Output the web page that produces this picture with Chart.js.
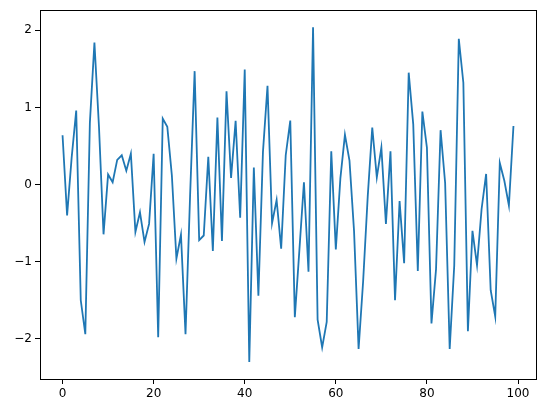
<!DOCTYPE html>
<html>
<head>
<meta charset="utf-8">
<script src="https://cdn.jsdelivr.net/npm/chart.js@4/dist/chart.umd.min.js"></script>
<style>
  html, body { margin: 0; padding: 0; background: #fff; }
  #wrap { width: 546px; height: 413px; }
</style>
</head>
<body>
<div id="wrap"><canvas id="lineChart" width="546" height="413"></canvas></div>
<script>
// Step index (x) and signal value (y)
const steps = [
    0, 1, 2, 3, 4, 5, 6, 7, 8, 9, 10, 11, 12, 13, 14, 15, 16, 17, 18, 19,
    20, 21, 22, 23, 24, 25, 26, 27, 28, 29, 30, 31, 32, 33, 34, 35, 36, 37, 38, 39,
    40, 41, 42, 43, 44, 45, 46, 47, 48, 49, 50, 51, 52, 53, 54, 55, 56, 57, 58, 59,
    60, 61, 62, 63, 64, 65, 66, 67, 68, 69, 70, 71, 72, 73, 74, 75, 76, 77, 78, 79,
    80, 81, 82, 83, 84, 85, 86, 87, 88, 89, 90, 91, 92, 93, 94, 95, 96, 97, 98, 99
];
const values = [
    0.64, -0.40, 0.35, 0.96, -1.50, -1.94, 0.80, 1.84, 0.75, -0.645,
    0.13, 0.03, 0.32, 0.38, 0.18, 0.40, -0.615, -0.36, -0.745, -0.51,
    0.40, -1.98, 0.855, 0.75, 0.12, -0.96, -0.65, -1.94, -0.15, 1.47,
    -0.72, -0.66, 0.36, -0.86, 0.87, -0.73, 1.21, 0.086, 0.826, -0.43,
    1.49, -2.30, 0.22, -1.44, 0.42, 1.28, -0.50, -0.20, -0.83, 0.38,
    0.83, -1.72, -0.85, 0.03, -1.13, 2.04, -1.75, -2.11, -1.78, 0.43,
    -0.84, 0.08, 0.645, 0.31, -0.60, -2.13, -1.25, -0.16, 0.74, 0.094,
    0.48, -0.51, 0.43, -1.50, -0.215, -1.02, 1.45, 0.78, -1.12, 0.946,
    0.48, -1.80, -1.10, 0.705, 0.02, -2.13, -1.05, 1.89, 1.32, -1.90,
    -0.60, -1.045, -0.32, 0.138, -1.37, -1.71, 0.28, 0.05, -0.27, 0.76
];
const xTicks = [0, 20, 40, 60, 80, 100];
const yTicks = [-2, -1, 0, 1, 2];

// matplotlib-style frame on all four sides
const frameBox = {
    id: 'frameBox',
    afterDraw(chart) {
        const { ctx, chartArea: a } = chart;
        ctx.save();
        ctx.strokeStyle = '#000';
        ctx.lineWidth = 1;
        ctx.strokeRect(Math.round(a.left) + 0.5, Math.round(a.top) + 0.5,
            Math.round(a.right - a.left), Math.round(a.bottom - a.top));
        ctx.restore();
    }
};

const tickFont = { family: 'DejaVu Sans', size: 12 };
const fmt = v => String(v).replace('-', '\u2212');

new Chart(document.getElementById('lineChart').getContext('2d'), {
    type: 'line',
    data: {
        labels: steps,
        datasets: [{
            data: values,
            borderColor: '#1f77b4',
            borderWidth: 1.8,
            pointRadius: 0,
            tension: 0,
            fill: false
        }]
    },
    options: {
        responsive: false,
        animation: false,
        devicePixelRatio: 1,
        layout: { padding: { top: 9, right: 10, left: 0, bottom: 0 } },
        plugins: { legend: { display: false }, tooltip: { enabled: false } },
        scales: {
            x: {
                type: 'linear',
                min: -4.95,
                max: 103.95,
                afterBuildTicks: s => { s.ticks = xTicks.map(v => ({ value: v })); },
                afterFit: s => { s.height = 34; },
                grid: { drawOnChartArea: false, drawTicks: true, tickLength: 5, color: '#000' },
                border: { display: false },
                ticks: { color: '#000', font: tickFont, padding: 3, maxRotation: 0, callback: fmt }
            },
            y: {
                min: -2.52,
                max: 2.26,
                afterBuildTicks: s => { s.ticks = yTicks.map(v => ({ value: v })); },
                afterFit: s => { s.width = 40; },
                grid: { drawOnChartArea: false, drawTicks: true, tickLength: 5, color: '#000' },
                border: { display: false },
                ticks: { color: '#000', font: tickFont, padding: 3, callback: fmt }
            }
        }
    },
    plugins: [frameBox]
});
</script>
</body>
</html>
